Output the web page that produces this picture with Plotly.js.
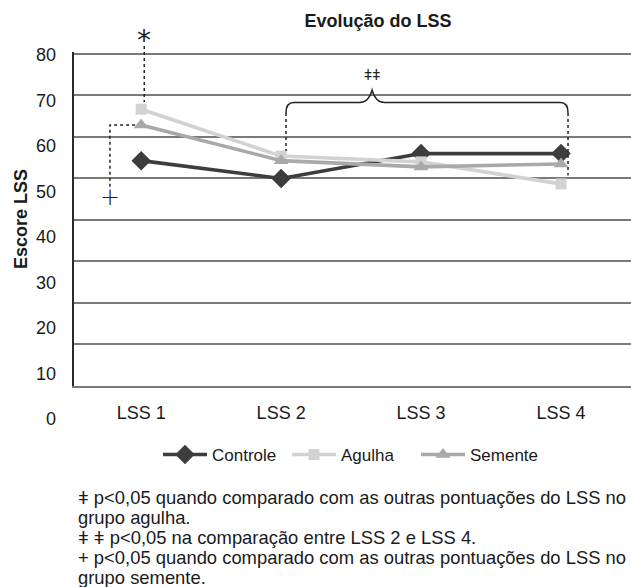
<!DOCTYPE html>
<html>
<head>
<meta charset="utf-8">
<script src="https://cdn.plot.ly/plotly-3.0.1.min.js"></script>
<style>html,body{margin:0;padding:0;background:#fff;}</style>
</head>
<body>
<div id="chart" style="width:631px;height:587px;"></div>
<script>
// ---- data ----
const categories = ['LSS 1', 'LSS 2', 'LSS 3', 'LSS 4'];
const controle = [54.3, 50.0, 56.0, 56.0];
const agulha   = [66.7, 55.4, 54.0, 48.7];
const semente  = [62.9, 54.3, 52.8, 53.5];
const seriesNames = ['Controle', 'Agulha', 'Semente'];
const yTickVals = [0, 10, 20, 30, 40, 50, 60, 70, 80];
const yTickText = ['0', '10', '20', '30', '40', '50', '60', '70', '80'];
const footnotes = [
  'ǂ p&lt;0,05 quando comparado com as outras pontuações do LSS no',
  'grupo agulha.',
  'ǂ ǂ p&lt;0,05 na comparação entre LSS 2 e LSS 4.',
  '+ p&lt;0,05 quando comparado com as outras pontuações do LSS no',
  'grupo semente.'
];

const FONT = 'Liberation Sans, Arial, sans-serif';
const pY = px => (425 - px) / 375;   // page pixel row -> paper fraction
const pX = px => (px - 74) / 557;    // page pixel column -> paper fraction

const traces = [
  {x: categories, y: controle, name: seriesNames[0], type: 'scatter', mode: 'lines+markers',
   line: {color: '#3d3d3d', width: 3.6}, marker: {symbol: 'diamond', size: 15, color: '#3d3d3d'}},
  {x: categories, y: agulha, name: seriesNames[1], type: 'scatter', mode: 'lines+markers',
   line: {color: '#d2d2d2', width: 3.6}, marker: {symbol: 'square', size: 11, color: '#d2d2d2'}},
  {x: categories, y: semente, name: seriesNames[2], type: 'scatter', mode: 'lines+markers',
   line: {color: '#a9a9a9', width: 3.6}, marker: {symbol: 'triangle-up', size: 13, color: '#a9a9a9'}}
];

const dot = {color: '#222', width: 1.5, dash: 'dot'};
const shapes = [
  // asterisk guide
  {type: 'line', xref: 'x', yref: 'paper', x0: 0.022, x1: 0.022, y0: pY(46), y1: pY(102), line: dot},
  // semente guide
  {type: 'path', xref: 'x', yref: 'y', path: 'M -0.223,48 L -0.223,62.9 L -0.03,62.9', line: dot},
  // brace
  {type: 'path', xref: 'x', yref: 'y',
   path: 'M 1.035,65.8 Q 1.035,68.3 1.09,68.3 L 1.56,68.3 Q 1.625,68.3 1.65,71.3 Q 1.675,68.3 1.74,68.3 L 2.995,68.3 Q 3.05,68.3 3.05,65.8',
   line: {color: '#222', width: 1.5}},
  {type: 'line', xref: 'x', yref: 'y', x0: 1.035, x1: 1.035, y0: 65.8, y1: 56.6, line: dot},
  {type: 'line', xref: 'x', yref: 'y', x0: 3.05, x1: 3.05, y0: 65.8, y1: 50.7, line: dot}
];

const annotations = [
  {xref: 'x', yref: 'paper', x: 0.022, y: pY(32), yanchor: 'middle', text: '*', showarrow: false,
   font: {family: 'DejaVu Sans', size: 28, color: '#222'}, yshift: -9},
  {xref: 'x', yref: 'y', x: -0.223, y: 45.6, text: '+', showarrow: false,
   font: {family: 'DejaVu Sans', size: 24, color: '#222', weight: 200}},
  {xref: 'x', yref: 'y', x: 1.65, y: 74.9, text: 'ǂǂ', showarrow: false,
   font: {family: FONT, size: 14, color: '#222'}}
];
// y tick labels: the original figure prints them on a slightly larger step than its gridlines
yTickVals.forEach((v, i) => {
  annotations.push({xref: 'paper', yref: 'paper', x: pX(58), xanchor: 'right',
    y: pY(419 - v * 4.55), yanchor: 'middle', text: yTickText[i], showarrow: false,
    font: {family: FONT, size: 18, color: '#1a1a1a'}});
});
const footY = [497, 517, 537, 557, 577];
footnotes.forEach((t, i) => {
  annotations.push({xref: 'paper', yref: 'paper', x: pX(76), xanchor: 'left',
    y: pY(footY[i]), yanchor: 'middle', text: t, showarrow: false,
    font: {family: FONT, size: 18.4, color: '#1a1a1a'}});
});

const layout = {
  width: 631, height: 587,
  margin: {l: 74, r: 0, t: 50, b: 162},
  paper_bgcolor: '#fff', plot_bgcolor: '#fff',
  font: {family: FONT, color: '#1a1a1a', size: 17},
  title: {text: 'Evolução do LSS', font: {family: FONT, size: 18, weight: 'bold', color: '#1a1a1a'},
          xref: 'container', x: 0.599, xanchor: 'center', yref: 'container', y: 1 - 21 / 587, yanchor: 'middle'},
  xaxis: {type: 'category', range: [-0.48, 3.5], showgrid: false, zeroline: false,
          showline: true, linecolor: '#7a7a7a', linewidth: 2,
          ticks: 'outside', ticklen: 9, tickcolor: 'rgba(0,0,0,0)',
          tickfont: {family: FONT, size: 18, color: '#1a1a1a'}, fixedrange: true},
  yaxis: {domain: [pY(386), pY(54 - 0.5 * 4.15)], range: [0, 80.5], tickvals: yTickVals, showgrid: true,
          gridcolor: '#7a7a7a', gridwidth: 2, zeroline: false, showticklabels: false,
          showline: true, linecolor: '#2a2a2a', linewidth: 2, ticks: '',
          title: {text: 'Escore LSS', font: {family: FONT, size: 18, weight: 'bold', color: '#1a1a1a'}, standoff: 40},
          fixedrange: true},
  showlegend: true,
  legend: {orientation: 'h', x: pX(158), xanchor: 'left', y: pY(455), yanchor: 'middle',
           itemwidth: 44, entrywidth: 70, entrywidthmode: 'pixels',
           font: {family: FONT, size: 17, color: '#1a1a1a'}, bgcolor: 'rgba(0,0,0,0)'},
  shapes: shapes,
  annotations: annotations
};

Plotly.newPlot('chart', traces, layout, {displayModeBar: false, staticPlot: true});
</script>
</body>
</html>
